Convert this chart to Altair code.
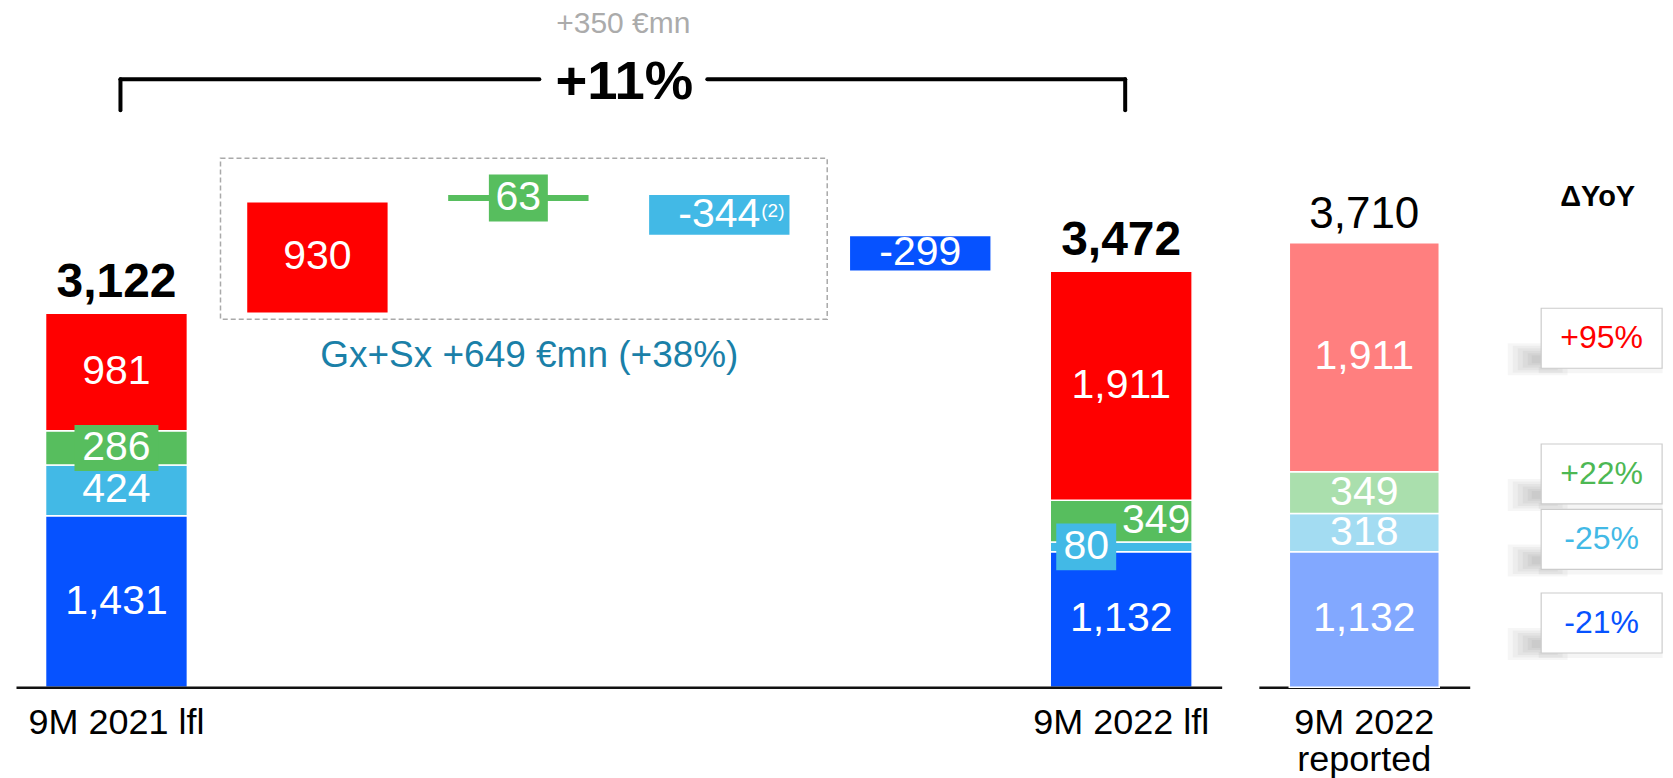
import altair as alt
import pandas as pd

# ---------------- values ----------------
segments = ["Networks", "Supply", "Renewables", "Conventional"]      # bottom -> top
values_2021_lfl = [1431, 424, 286, 981]
values_2022_lfl = [1132, 80, 349, 1911]
values_2022_reported = [1132, 318, 349, 1911]

bridge_segments = ["Conventional", "Renewables", "Supply", "Networks"]
bridge_values = [930, 63, -344, -299]

yoy_segments = ["Conventional", "Renewables", "Supply", "Networks"]
yoy_labels = ["+95%", "+22%", "-25%", "-21%"]

start_label = "9M 2021 lfl"
end_label = "9M 2022 lfl"
reported_label = "9M 2022 reported"
bridge_categories = ["Δ " + s for s in bridge_segments]
main_categories = [start_label] + bridge_categories + [end_label]

growth_pct_text = "+11%"
growth_abs_text = "+350 €mn"
gxsx_text = "Gx+Sx +649 €mn (+38%)"
footnote_text = "(2)"
yoy_header = "ΔYoY"

# ---------------- styles ----------------
FONT = "Liberation Sans"
strong = {"Conventional": "#ff0000", "Renewables": "#57be5e",
          "Supply": "#42b9e6", "Networks": "#0652ff"}
light = {"Conventional": "#ff7f7f", "Renewables": "#aadfad",
         "Supply": "#a3dcf2", "Networks": "#82a8ff"}
yoy_text_color = {"Conventional": "#ff0000", "Renewables": "#4db853",
                  "Supply": "#42b9e6", "Networks": "#0652ff"}

PLOT_H = 679.5
Y_MAX = 5667
PX = PLOT_H / Y_MAX
MAIN_W, REP_W, YOY_W = 1206.4, 211, 156.4
GAP = 36.6

yscale = alt.Scale(domain=[0, Y_MAX], nice=False, zero=True)


def Y(field):
    return alt.Y(f"{field}:Q", scale=yscale, axis=None)


def rect_path(w, h):
    r = h / w
    return f"M-1,{-r:.4f}L1,{-r:.4f}L1,{r:.4f}L-1,{r:.4f}Z"


# ---------------- tables ----------------
bar_rows = []


def add_stack(rows, cat, vals, palette):
    base = 0
    for seg, v in zip(segments, vals):
        rows.append(dict(cat=cat, seg=seg, y0=base, y1=base + v, mid=base + v / 2,
                         label=f"{v:,}", color=palette[seg]))
        base += v
    return base


total_start = add_stack(bar_rows, start_label, values_2021_lfl, strong)
level = total_start
levels = [level]
for cat, seg, v in zip(bridge_categories, bridge_segments, bridge_values):
    bar_rows.append(dict(cat=cat, seg=seg, y0=level, y1=level + v, mid=level + v / 2,
                         label=f"{v:,}", color=strong[seg]))
    level += v
    levels.append(level)
total_end = add_stack(bar_rows, end_label, values_2022_lfl, strong)
peak = max(levels)
main_bars = pd.DataFrame(bar_rows)

label_shift = {(end_label, "Supply"): -35, (end_label, "Renewables"): 35}
main_bars["dx"] = [label_shift.get((c, s), 0) for c, s in zip(main_bars.cat, main_bars.seg)]

rep_rows = []
total_rep = add_stack(rep_rows, reported_label, values_2022_reported, light)
rep_bars = pd.DataFrame(rep_rows)

# ---------------- main panel ----------------
main_axis = alt.Axis(values=[start_label, end_label], title=None, labelAngle=0, ticks=False,
                     domain=True, domainColor="#111111", domainWidth=2.5, grid=False,
                     labelFont=FONT, labelFontSize=36, labelColor="black", labelPadding=18)
main_scale = alt.Scale(domain=main_categories, paddingInner=0.294, paddingOuter=0.147)


def xm(field="cat", **kw):
    return alt.X(f"{field}:N", scale=main_scale, axis=main_axis, title=None, **kw)


layers = []

box_df = pd.DataFrame([dict(cat=bridge_categories[0], cat2=bridge_categories[2],
                            top=peak, bottom=total_start)])
layers.append(alt.Chart(box_df).mark_rect(
    fill="white", fillOpacity=0, stroke="#a9a9a9", strokeWidth=1.5, strokeDash=[5, 3],
    xOffset=-26, x2Offset=37, yOffset=-36, y2Offset=6).encode(
    x=xm(bandPosition=0), x2=alt.X2("cat2:N", bandPosition=1), y=Y("top"), y2="bottom:Q"))

layers.append(alt.Chart(main_bars).mark_bar(stroke="white", strokeWidth=1.5).encode(
    x=xm(), y=Y("y0"), y2="y1:Q", color=alt.Color("color:N", scale=None)))

box_specs = [(start_label, "Renewables", 84, 46),
             (bridge_categories[1], "Renewables", 59, 47),
             (end_label, "Supply", 60, 47)]
for cat, seg, w, h in box_specs:
    d = main_bars[(main_bars.cat == cat) & (main_bars.seg == seg)]
    layers.append(alt.Chart(d).mark_point(
        shape=rect_path(w, h), size=w * w, filled=True, opacity=1, strokeWidth=0,
        color=strong[seg], xOffset=int(d.dx.iloc[0])).encode(x=xm(), y=Y("mid")))

for dx in sorted(main_bars.dx.unique()):
    d = main_bars[main_bars.dx == dx]
    layers.append(alt.Chart(d).mark_text(
        font=FONT, fontSize=41, color="white", baseline="middle", dx=int(dx)).encode(
        x=xm(), y=Y("mid"), text="label:N"))

fn_df = main_bars[main_bars.cat == bridge_categories[2]].assign(fn=footnote_text)
layers.append(alt.Chart(fn_df).mark_text(
    font=FONT, fontSize=19, color="white", align="left", baseline="alphabetic",
    dx=42, dy=2).encode(x=xm(), y=Y("mid"), text="fn:N"))

tot_df = pd.DataFrame([dict(cat=start_label, total=total_start),
                       dict(cat=end_label, total=total_end)])
tot_df["label"] = tot_df.total.map(lambda v: f"{v:,}")
layers.append(alt.Chart(tot_df).mark_text(
    font=FONT, fontSize=48, fontWeight="bold", color="black", baseline="alphabetic",
    dy=-16).encode(x=xm(), y=Y("total"), text="label:N"))

ann_df = pd.DataFrame([dict(cat=bridge_categories[1], start=total_start, peak=peak,
                            gx=gxsx_text, pct=growth_pct_text, ab=growth_abs_text)])
layers.append(alt.Chart(ann_df).mark_text(
    font=FONT, fontSize=37, color="#1a80a8", baseline="middle", dx=11, dy=43).encode(
    x=xm(), y=Y("start"), text="gx:N"))
layers.append(alt.Chart(ann_df).mark_text(
    font=FONT, fontSize=54.5, fontWeight="bold", color="black", baseline="middle",
    dx=106, dy=-111).encode(x=xm(), y=Y("peak"), text="pct:N"))
layers.append(alt.Chart(ann_df).mark_text(
    font=FONT, fontSize=30, color="#ababab", baseline="middle",
    dx=105, dy=-170).encode(x=xm(), y=Y("peak"), text="ab:N"))

bv_df = pd.DataFrame([dict(cat=start_label, y=peak), dict(cat=end_label, y=peak)])
layers.append(alt.Chart(bv_df).mark_rule(
    color="black", strokeWidth=4, strokeCap="round", xOffset=4,
    yOffset=-84, y2Offset=-115).encode(x=xm(bandPosition=0.5), y=Y("y"), y2="y:Q"))
bh1 = pd.DataFrame([dict(cat=start_label, cat2=bridge_categories[1], y=peak)])
layers.append(alt.Chart(bh1).mark_rule(
    color="black", strokeWidth=4, strokeCap="round", xOffset=4, x2Offset=21,
    yOffset=-115).encode(x=xm(bandPosition=0.5), x2=alt.X2("cat2:N", bandPosition=0.5), y=Y("y")))
bh2 = pd.DataFrame([dict(cat=bridge_categories[2], cat2=end_label, y=peak)])
layers.append(alt.Chart(bh2).mark_rule(
    color="black", strokeWidth=4, strokeCap="round", xOffset=-12, x2Offset=4,
    yOffset=-115).encode(x=xm(bandPosition=0.5), x2=alt.X2("cat2:N", bandPosition=0.5), y=Y("y")))

main = alt.layer(*layers).properties(width=MAIN_W, height=PLOT_H)

# ---------------- reported panel ----------------
rep_axis = alt.Axis(title=None, labelAngle=0, ticks=False, domain=True, domainColor="#111111",
                    domainWidth=2.5, grid=False, labelFont=FONT, labelFontSize=36,
                    labelColor="black", labelPadding=18, labelLineHeight=37,
                    labelExpr="[slice(datum.label, 0, 7), slice(datum.label, 8)]")
rep_x = alt.X("cat:N", scale=alt.Scale(domain=[reported_label], paddingInner=0, paddingOuter=0.203),
              axis=rep_axis, title=None)
rep_tot = pd.DataFrame([dict(cat=reported_label, total=total_rep, label=f"{total_rep:,}")])
rep = alt.layer(
    alt.Chart(rep_bars).mark_bar(stroke="white", strokeWidth=1.5).encode(
        x=rep_x, y=Y("y0"), y2="y1:Q", color=alt.Color("color:N", scale=None)),
    alt.Chart(rep_bars).mark_text(font=FONT, fontSize=41, color="white", baseline="middle").encode(
        x=rep_x, y=Y("mid"), text="label:N"),
    alt.Chart(rep_tot).mark_text(font=FONT, fontSize=44, color="black", baseline="alphabetic",
                                 dy=-15).encode(x=rep_x, y=Y("total"), text="label:N"),
).properties(width=REP_W, height=PLOT_H)

# ---------------- ΔYoY panel ----------------
rep_mid = dict(zip(rep_bars.seg, rep_bars.mid))
box_nudge_up = {"Conventional": 19, "Renewables": 18.7, "Supply": -6.8, "Networks": -3.5}
yoy_df = pd.DataFrame([dict(col=yoy_header, seg=s, label=l,
                            y=rep_mid[s] + box_nudge_up[s] / PX, color=yoy_text_color[s])
                       for s, l in zip(yoy_segments, yoy_labels)])
yoy_x = alt.X("col:N", scale=alt.Scale(type="point", domain=[yoy_header], align=0.61),
              axis=None, title=None)
yl = []
# soft shadow at the lower-left of each box
for w, h in [(60, 32), (50, 27), (40, 22), (30, 17), (20, 12), (12, 8)]:
    yl.append(alt.Chart(yoy_df).mark_point(
        shape=rect_path(w, h), size=w * w, filled=True, color="black", opacity=0.035,
        strokeWidth=0, xOffset=-64, yOffset=21).encode(x=yoy_x, y=Y("y")))
yl.append(alt.Chart(yoy_df).mark_point(
    shape=rect_path(124, 6), size=124 * 124, filled=True, color="black", opacity=0.04,
    strokeWidth=0, xOffset=-1, yOffset=32).encode(x=yoy_x, y=Y("y")))
yl.append(alt.Chart(yoy_df).mark_point(
    shape=rect_path(121, 60), size=121 * 121, filled=False, fill="white", fillOpacity=1,
    stroke="#cccccc", strokeWidth=1.2, opacity=1).encode(x=yoy_x, y=Y("y")))
yl.append(alt.Chart(yoy_df).mark_text(font=FONT, fontSize=32, baseline="middle").encode(
    x=yoy_x, y=Y("y"), text="label:N", color=alt.Color("color:N", scale=None)))
hdr = pd.DataFrame([dict(col=yoy_header, text=yoy_header)])
yl.append(alt.Chart(hdr).mark_text(font=FONT, fontSize=29, fontWeight="bold", color="black",
                                   baseline="middle", dx=-4).encode(
    x=yoy_x, y=alt.value(189), text="text:N"))
yoy = alt.layer(*yl).properties(width=YOY_W, height=PLOT_H)

chart = alt.hconcat(main, rep, yoy, spacing=GAP, bounds="flush").properties(
    padding={"left": 8, "right": 0, "top": 0, "bottom": 0}
).configure(font=FONT).configure_view(stroke=None)

chart.save("out.html", embed_options={"renderer": "svg", "actions": False})
